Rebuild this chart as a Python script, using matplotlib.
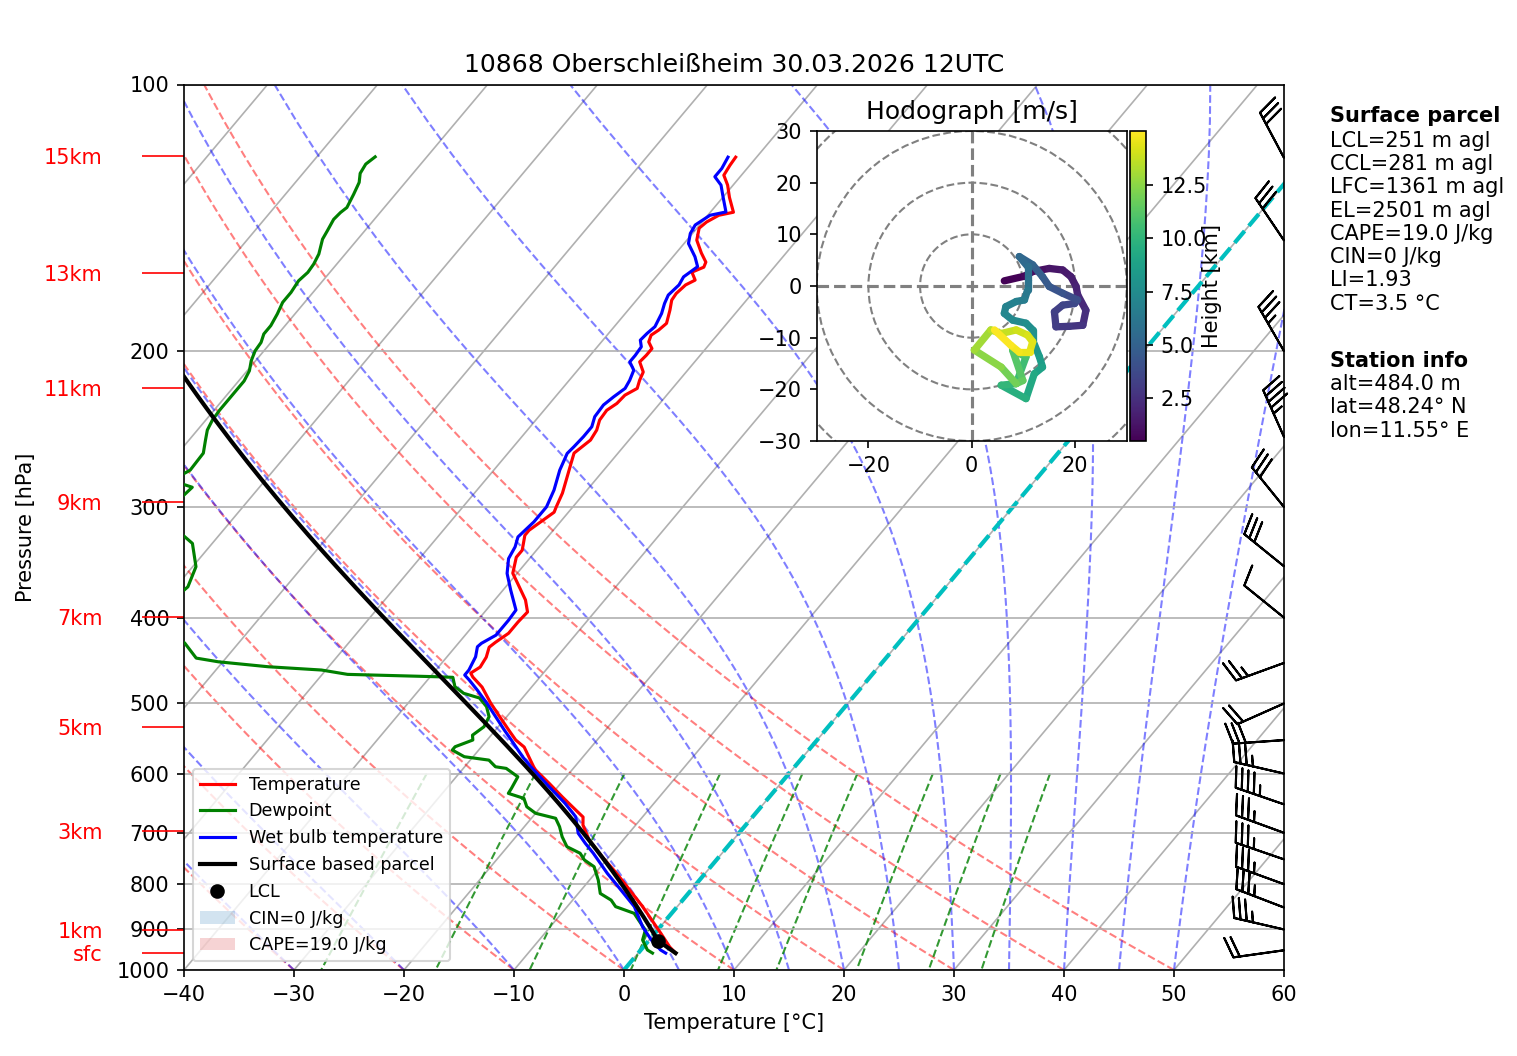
import numpy as np
import matplotlib
matplotlib.use("Agg")
import matplotlib.pyplot as plt
from matplotlib.collections import LineCollection
from matplotlib.colors import Normalize
from matplotlib.lines import Line2D
from matplotlib.patches import Circle, Patch

# ---- sounding values ----
t_pres = [957, 941.9, 908.2, 878.0, 848.7, 812.0, 777.1, 745.4, 713.1, 685.9, 671.8, 659.7,
          637.8, 615.0, 594.5, 589.9, 560.0, 549.9, 535.8, 517.9, 499.5, 479.2, 466.9, 462.1,
          454.9, 443.4, 432.0, 426.5, 416.6, 404.6, 394.2, 382.1, 365.8, 356.4, 341.9, 335.7,
          322.9, 318.7, 312.1, 304.1, 300.2, 289.4, 277.6, 267.7, 260.8, 252.1, 245.6, 239.3,
          233.3, 229.2, 224.3, 220.4, 215.8, 211.2, 205.7, 202.2, 198.7, 195.3, 191.9, 189.4,
          186.1, 179.8, 175.2, 172.2, 168.4, 166.3, 162.9, 160.8, 158.7, 155.0, 149.9, 145.3,
          143.0, 140.5, 139.4, 134.1, 129.9, 126.6, 123.4, 120.8]
t_temp = [3.4, 2.4, 0.5, -1.3, -3.1, -5.6, -8.1, -10.6, -13.1, -14.8, -15.4, -16.6,
          -18.8, -21.1, -23.3, -23.7, -26.1, -27.4, -28.8, -30.6, -32.5, -34.5, -36.1, -36.6,
          -36.2, -36.4, -36.9, -36.7, -36.2, -36.2, -36.1, -37.2, -39.2, -40.4, -41.3, -41.3,
          -42.2, -42.2, -41.8, -41.3, -41.5, -42.0, -42.8, -43.5, -44.0, -43.5, -43.7, -44.2,
          -44.3, -43.9, -43.8, -43.2, -43.6, -43.9, -45.0, -44.9, -44.9, -45.7, -46.0, -45.7,
          -45.5, -46.2, -46.8, -46.9, -46.7, -46.2, -47.1, -46.4, -46.6, -47.7, -49.1, -49.8,
          -49.6, -49.0, -47.9, -49.4, -50.5, -51.6, -51.8, -51.9]

tw_pres = [957, 949.3, 925.0, 893.9, 848.0, 812.0, 777.7, 738.2, 719.2, 700.8, 671.2, 648.1,
           620.9, 589.4, 574.3, 549.9, 535.8, 517.6, 500.0, 483.0, 470.5, 464.4, 458.4, 442.9,
           431.5, 427.6, 418.7, 402.6, 392.2, 372.4, 356.6, 343.1, 332.8, 324.3, 311.8, 299.9,
           287.1, 272.6, 261.0, 256.6, 249.9, 243.5, 237.2, 230.1, 225.3, 220.4, 215.8, 210.2,
           205.7, 202.2, 197.8, 194.4, 191.0, 187.7, 181.4, 176.7, 172.9, 168.4, 164.9, 160.6,
           156.5, 151.2, 147.3, 144.1, 140.5, 139.3, 134.0, 129.9, 127.1, 124.4, 120.8]
tw_temp = [2.5, 1.8, 0.2, -1.6, -3.9, -6.4, -8.9, -11.7, -13.2, -14.6, -16.1, -18.1,
           -20.8, -24.0, -25.5, -27.8, -29.2, -31.0, -32.8, -34.7, -36.2, -37.0, -37.0, -37.4,
           -38.0, -37.9, -37.2, -37.2, -37.3, -39.3, -40.9, -41.9, -42.2, -42.7, -42.4, -42.4,
           -43.0, -44.0, -44.6, -44.5, -44.4, -44.4, -44.9, -45.0, -44.7, -44.3, -44.5, -44.9,
           -45.9, -45.9, -46.0, -46.6, -46.5, -46.3, -46.7, -47.2, -47.5, -47.3, -47.5, -47.0,
           -48.0, -49.6, -50.2, -50.4, -49.8, -48.6, -50.0, -51.1, -52.3, -52.3, -52.6]

td_pres = [957, 949.3, 925.0, 901.5, 878.0, 863.0, 848.1, 833.9, 819.5, 791.6, 764.5, 751.2,
           738.2, 725.7, 707.1, 688.9, 674.0, 665.3, 654.1, 640.0, 631.7, 623.5, 605.1, 592.0,
           589.5, 579.4, 574.3, 564.4, 559.6, 549.9, 543.0, 531.3, 517.6, 504.2, 493.0, 487.0,
           478.7, 467.2, 466.5, 463.6, 458.4, 454.5, 448.7, 444.4, 427.3, 410.0, 390.0, 369.2,
           350.4, 329.8, 315.0, 300.0, 285.0, 280.0, 272.6, 260.8, 252.1, 245.6, 239.3, 233.3,
           227.3, 221.4, 216.2, 210.5, 205.1, 199.9, 195.6, 191.3, 187.2, 181.6, 176.2, 171.7,
           166.6, 163.0, 159.5, 155.4, 149.5, 146.3, 142.0, 139.5, 137.7, 133.0, 129.0, 126.0,
           123.0, 120.7]
td_temp = [1.3, 0.6, -0.6, -1.1, -2.5, -3.4, -5.6, -6.5, -8.0, -9.2, -10.6, -12.0,
           -12.9, -14.6, -15.8, -16.8, -17.8, -20.0, -21.3, -22.2, -24.0, -24.1, -24.4, -26.1,
           -27.2, -28.3, -30.8, -32.4, -32.4, -31.3, -31.7, -31.3, -31.6, -32.6, -33.9, -35.7,
           -37.0, -37.9, -39.3, -47.7, -50.4, -55.5, -60.4, -62.7, -64.9, -68.0, -69.5, -68.9,
           -69.7, -71.8, -75.0, -76.5, -76.1, -78.5, -77.6, -77.7, -78.5, -79.1, -79.4, -79.5,
           -79.5, -79.5, -79.5, -79.8, -80.4, -80.8, -80.9, -81.3, -81.3, -81.6, -82.0, -82.0,
           -82.2, -82.0, -82.1, -82.4, -83.2, -83.4, -83.7, -83.6, -83.4, -83.8, -84.2, -84.8,
           -85.0, -84.7]

sfc_pres = 957.0
sfc_temp = 3.4
sfc_dewp = 1.3

# wind barbs (direction deg, speed kt)
barb_pres = [950, 900, 850, 800, 750, 700, 650, 600, 550, 500, 450, 400, 350, 300, 250, 200, 150, 121]
barb_dir = [262, 283, 291, 290, 289, 290, 289, 283, 266, 246, 250, 309, 309, 321, 336, 330, 326, 332]
barb_spd = [20, 35, 35, 35, 35, 35, 45, 35, 30, 20, 25, 10, 30, 30, 45, 35, 30, 30]

# hodograph (height km, u/v m/s)
hodo_height = [0.48, 0.7, 0.9, 1.2, 1.4, 1.6, 1.8, 2.0, 2.3, 2.6, 2.8, 3.0, 3.2, 3.4, 3.6, 3.8,
               4.1, 4.4, 4.7, 5.0, 5.3, 5.6, 5.9, 6.2, 6.5, 6.7, 6.9, 7.1, 7.3, 7.5, 7.7, 8.0,
               8.4, 8.7, 9.0, 9.5, 9.9, 10.3, 10.7, 11.0, 11.4, 11.7, 12.2, 12.8, 13.3, 13.6,
               13.9, 14.1, 14.3, 14.5, 14.7, 14.9, 15.05]
hodo_u = [6.3, 10.2, 11.8, 15.0, 17.6, 19.2, 20.2, 20.5, 22.1, 21.5, 18.9, 16.3, 16.0, 17.6, 19.9, 20.5,
          17.6, 15.0, 13.7, 11.8, 9.2, 10.8, 10.8, 10.8, 10.2, 8.6, 6.6, 6.3, 7.9, 10.5, 11.8, 11.8,
          13.1, 13.7, 12.1, 10.5, 5.7, 8.6, 10.5, 7.9, 9.9, 8.6, 5.7, 0.5, 3.7, 5.7,
          8.6, 10.8, 11.8, 11.2, 9.2, 7.6, 4.4]
hodo_v = [1.0, 1.9, 2.8, 3.4, 3.1, 1.8, -0.1, -1.7, -4.7, -7.6, -7.8, -7.9, -5.0, -3.7, -3.4, -2.7,
          -1.4, -0.1, 1.8, 4.1, 5.7, 3.8, 1.2, -0.8, -2.7, -3.0, -4.0, -5.3, -6.6, -7.2, -8.5, -10.5,
          -13.7, -15.7, -17.0, -21.8, -19.2, -18.9, -13.7, -12.4, -18.3, -18.9, -15.7, -12.4, -8.5, -9.2,
          -8.5, -9.5, -10.8, -12.8, -12.8, -11.5, -8.5]

height_label_pres = [120.5, 163.3, 220.3, 296.2, 399.6, 531.4, 696.8, 901.4, 956.8]
height_label_text = ["15km", "13km", "11km", "9km", "7km", "5km", "3km", "1km", "sfc"]

parcel_lines = ["LCL=251 m agl", "CCL=281 m agl", "LFC=1361 m agl", "EL=2501 m agl",
                "CAPE=19.0 J/kg", "CIN=0 J/kg", "LI=1.93", "CT=3.5 °C"]
station_lines = ["alt=484.0 m", "lat=48.24° N", "lon=11.55° E"]

# ---- thermodynamics for the background lines and the parcel ----
RD = 287.04749
CP = 1004.6662
LV = 2.50084e6
EPS = 0.621957
KAPPA = RD / CP
SKEW = 67.6  # degC of horizontal shift per decade of pressure


def sx(t, p):
    return np.asarray(t) + SKEW * np.log10(1000.0 / np.asarray(p))


def sat_vp(tc):
    return 6.112 * np.exp(17.67 * tc / (tc + 243.5))


def dewpoint_from_e(e):
    a = np.log(e / 6.112)
    return 243.5 * a / (17.67 - a)


def dry_lapse(t0, p, p0=1000.0):
    return (t0 + 273.15) * (p / p0) ** KAPPA - 273.15


def dtdp(T, p):
    es = sat_vp(T - 273.15)
    rs = EPS * es / np.maximum(p - es, 1e-3)
    frac = (RD * T + LV * rs) / (CP + LV * LV * rs * EPS / (RD * T * T))
    return frac / p


def moist_lapse(t0, p_levels):
    T = np.atleast_1d(np.asarray(t0, float)) + 273.15
    out = [T.copy()]
    for i in range(len(p_levels) - 1):
        h = (p_levels[i + 1] - p_levels[i]) / 4.0
        p = p_levels[i]
        for _ in range(4):
            k1 = dtdp(T, p)
            k2 = dtdp(T + 0.5 * h * k1, p + 0.5 * h)
            k3 = dtdp(T + 0.5 * h * k2, p + 0.5 * h)
            k4 = dtdp(T + h * k3, p + h)
            T = T + h * (k1 + 2 * k2 + 2 * k3 + k4) / 6.0
            p += h
        out.append(T.copy())
    return np.array(out) - 273.15


def lcl(p, t, td):
    e = sat_vp(td)
    w = EPS * e / (p - e)
    lo, hi = 500.0, p
    for _ in range(60):
        mid = 0.5 * (lo + hi)
        tl = dry_lapse(t, mid, p)
        tdl = dewpoint_from_e(mid * w / (EPS + w))
        if tl > tdl:
            hi = mid
        else:
            lo = mid
    pl = 0.5 * (lo + hi)
    return pl, dry_lapse(t, pl, p)


fig = plt.figure(figsize=(1517 / 150, 1056 / 150), dpi=150)
ax = fig.add_axes([184 / 1517, 1 - 970 / 1056, 1100 / 1517, 885.5 / 1056])
ax.set_yscale("log")
ax.set_ylim(1000, 100)
ax.set_xlim(-40, 60)

pp = np.linspace(1000, 100, 181)

# isotherms and pressure grid
for t in range(-160, 61, 10):
    ax.plot(sx(t, pp), pp, color="#b0b0b0", lw=0.8, zorder=1)
ax.yaxis.grid(True, color="#b0b0b0", lw=0.8)

# dry adiabats
dry_t0 = np.arange(-40, 51, 10)
segs = [np.column_stack([sx(dry_lapse(t0, pp), pp), pp]) for t0 in dry_t0]
ax.add_collection(LineCollection(segs, colors="r", linestyles="dashed", alpha=0.5,
                                 linewidths=1.0, zorder=1.2))

# moist adiabats
moist_t0 = np.concatenate((np.arange(-40, 0, 10), np.arange(0, 51, 5)))
p_moist = np.linspace(1000, 100, 91)
tm = moist_lapse(moist_t0, p_moist)
segs = [np.column_stack([sx(tm[:, i], p_moist), p_moist]) for i in range(len(moist_t0))]
ax.add_collection(LineCollection(segs, colors="b", linestyles="dashed", alpha=0.5,
                                 linewidths=1.0, zorder=1.2))

# mixing ratio lines
mix_w = [0.0004, 0.001, 0.002, 0.004, 0.007, 0.01, 0.016, 0.024, 0.032]
p_mix = np.linspace(600, 1000, 50)
segs = []
for w in mix_w:
    td_line = dewpoint_from_e(p_mix * w / (EPS + w))
    segs.append(np.column_stack([sx(td_line, p_mix), p_mix]))
ax.add_collection(LineCollection(segs, colors="g", linestyles="dashed", alpha=0.8,
                                 linewidths=1.0, zorder=1.2))

# 0 degC isotherm
ax.plot(sx(0, pp), pp, color="c", ls="--", lw=2, zorder=1.5)

# profiles
l_t, = ax.plot(sx(t_temp, t_pres), t_pres, color="r", lw=1.5, zorder=3)
l_td, = ax.plot(sx(td_temp, td_pres), td_pres, color="g", lw=1.5, zorder=3)
l_tw, = ax.plot(sx(tw_temp, tw_pres), tw_pres, color="b", lw=1.5, zorder=3)

lcl_p, lcl_t = lcl(sfc_pres, sfc_temp, sfc_dewp)
p_dry = np.linspace(sfc_pres, lcl_p, 10)
p_wet = np.linspace(lcl_p, 100, 120)
parcel_p = np.concatenate((p_dry, p_wet[1:]))
parcel_t = np.concatenate((dry_lapse(sfc_temp, p_dry, sfc_pres), moist_lapse(lcl_t, p_wet)[1:, 0]))
l_par, = ax.plot(sx(parcel_t, parcel_p), parcel_p, color="k", lw=2, zorder=3.5)
l_lcl, = ax.plot(sx(lcl_t, lcl_p), lcl_p, "ko", markerfacecolor="black", ms=6, zorder=4, ls="none")

# wind barbs on the right edge
bd = np.radians(barb_dir)
bu = -np.array(barb_spd) * np.sin(bd)
bv = -np.array(barb_spd) * np.cos(bd)
ax.barbs(np.ones(len(barb_pres)), barb_pres, bu, bv, transform=ax.get_yaxis_transform(),
         clip_on=False, length=7, zorder=5)

# axis ticks
ax.set_yticks(range(100, 1001, 100))
ax.set_yticklabels([str(v) for v in range(100, 1001, 100)])
ax.set_yticks(height_label_pres, labels=height_label_text, minor=True)
ax.tick_params(axis="y", which="minor", length=20, pad=19, color="red", labelcolor="red",
               width=0.8, labelsize=10)
ax.set_xticks(range(-40, 61, 10))
ax.set_ylabel("Pressure [hPa]")
ax.set_xlabel("Temperature [°C]")
ax.set_title("10868 Oberschleißheim 30.03.2026 12UTC", fontsize=12)

handles = [l_t, l_td, l_tw, l_par,
           Line2D([], [], marker="o", color="k", ls="none", ms=6),
           Patch(facecolor="tab:blue", alpha=0.2), Patch(facecolor="tab:red", alpha=0.2)]
labels = ["Temperature", "Dewpoint", "Wet bulb temperature", "Surface based parcel", "LCL",
          "CIN=0 J/kg", "CAPE=19.0 J/kg"]
leg = ax.legend(handles, labels, loc="lower left", fontsize=8.4)
leg.set_zorder(6)

# hodograph inset
hax = fig.add_axes([816.5 / 1517, 1 - 441 / 1056, 310.5 / 1517, 310 / 1056])
hax.set_xlim(-30, 30)
hax.set_ylim(-30, 30)
hax.set_aspect("equal")
for r in np.arange(10, 30 * np.sqrt(2), 10):
    hax.add_patch(Circle((0, 0), r, edgecolor="grey", fill=False, linestyle="dashed", lw=1))
hax.axhline(0, color="grey", linestyle="dashed")
hax.axvline(0, color="grey", linestyle="dashed")
pts = np.column_stack([hodo_u, hodo_v])
hsegs = np.stack([pts[:-1], pts[1:]], axis=1)
hh = np.array(hodo_height)
norm = Normalize(hh.min(), hh.max())
lc = LineCollection(hsegs, cmap="viridis", norm=norm, linewidths=3.5, capstyle="round")
lc.set_array(0.5 * (hh[:-1] + hh[1:]))
hax.add_collection(lc)
hax.set_xticks([-20, 0, 20])
hax.set_yticks(range(-30, 31, 10))
hax.set_title("Hodograph [m/s]", fontsize=12)

cax = fig.add_axes([1129.5 / 1517, 1 - 441 / 1056, 16.5 / 1517, 310 / 1056])
cb = fig.colorbar(lc, cax=cax)
cb.set_ticks([2.5, 5.0, 7.5, 10.0, 12.5])
cax.text(5.0, 0.5, "Height [km]", rotation=90, ha="center", va="center",
         transform=cax.transAxes, fontsize=10)

# info text on the right
x_txt = 1330 / 1517
fig.text(x_txt, 1 - 121.7 / 1056, "Surface parcel", fontweight="bold", va="baseline")
for i, s in enumerate(parcel_lines):
    fig.text(x_txt, 1 - (146.7 + 23.3 * i) / 1056, s, va="baseline")
fig.text(x_txt, 1 - 366.7 / 1056, "Station info", fontweight="bold", va="baseline")
for i, s in enumerate(station_lines):
    fig.text(x_txt, 1 - (390 + 23.3 * i) / 1056, s, va="baseline")

fig.savefig("out.png", dpi=150)
